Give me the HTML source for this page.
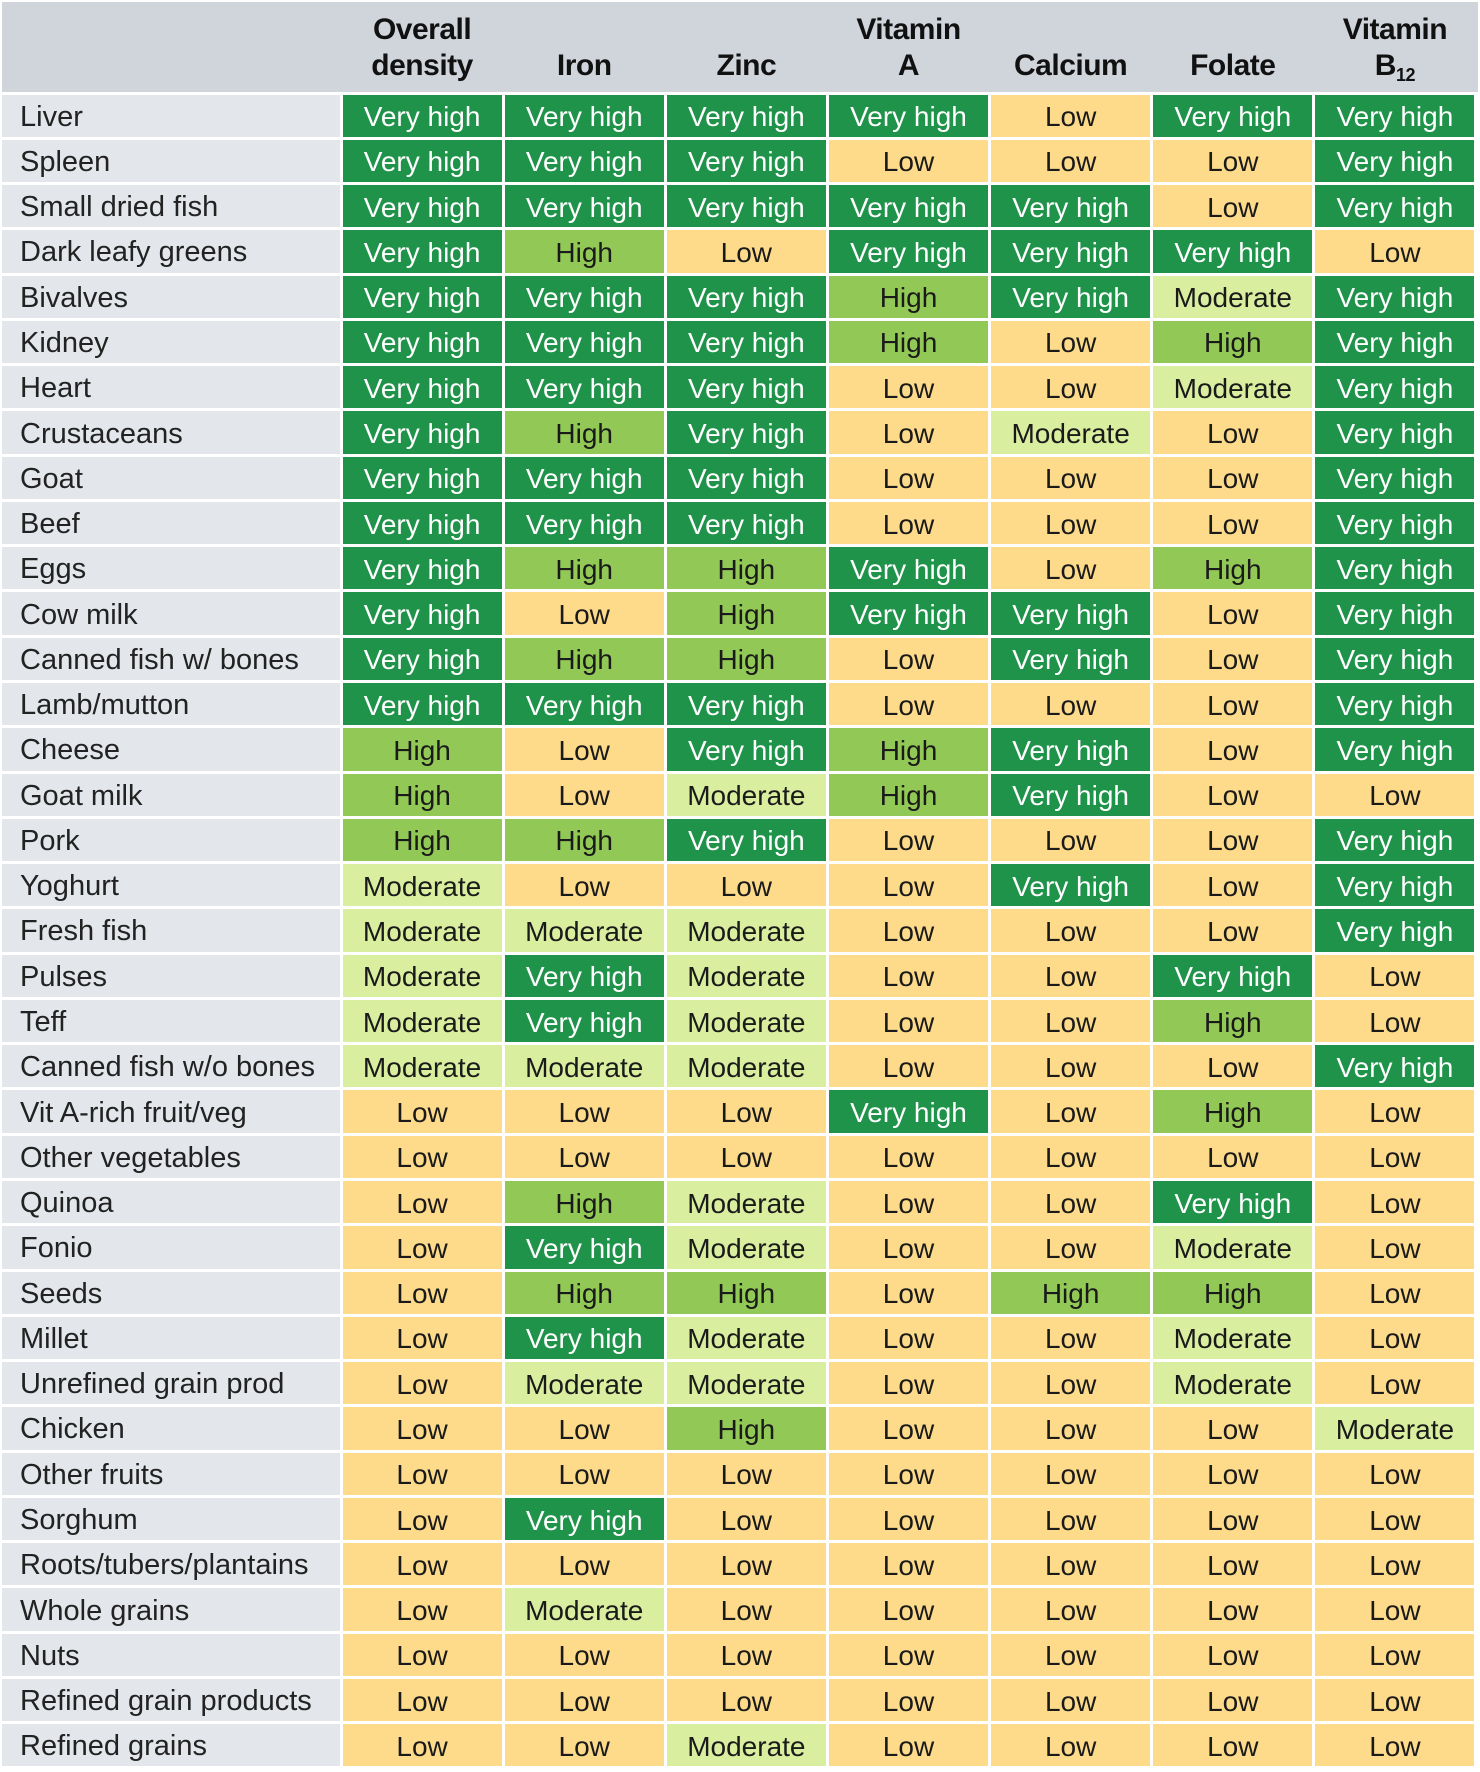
<!DOCTYPE html>
<html><head><meta charset="utf-8">
<style>
html,body{margin:0;padding:0;background:#fff;}
#chart{position:relative;width:1480px;height:1772px;overflow:hidden;background:#fff;font-family:"Liberation Sans",sans-serif;}
.c{position:absolute;display:flex;align-items:center;justify-content:center;font-size:28px;box-sizing:border-box;white-space:nowrap;}
.lab{justify-content:flex-start;padding-left:18px;background:#e3e6ea;color:#222;font-size:29px;padding-top:3px;}
.hd{position:absolute;display:flex;align-items:flex-end;justify-content:center;text-align:center;font-weight:bold;font-size:30px;line-height:36px;color:#111;padding-bottom:8px;box-sizing:border-box;letter-spacing:-0.5px;}
.hd sub{font-size:18px;vertical-align:-6px;line-height:0;}
</style></head>
<body>
<div id="chart">
<div style="position:absolute;left:2px;top:2px;width:1476px;height:90px;background:#d0d5dc;"></div>
</div>
<script>
const columns = ["Overall<br>density","Iron","Zinc","Vitamin<br>A","Calcium","Folate","Vitamin<br>B<sub>12</sub>"];
const foods = ["Liver","Spleen","Small dried fish","Dark leafy greens","Bivalves","Kidney","Heart","Crustaceans","Goat","Beef","Eggs","Cow milk","Canned fish w/ bones","Lamb/mutton","Cheese","Goat milk","Pork","Yoghurt","Fresh fish","Pulses","Teff","Canned fish w/o bones","Vit A-rich fruit/veg","Other vegetables","Quinoa","Fonio","Seeds","Millet","Unrefined grain prod","Chicken","Other fruits","Sorghum","Roots/tubers/plantains","Whole grains","Nuts","Refined grain products","Refined grains"];
// V=Very high, H=High, M=Moderate, L=Low
const ratings = [
"VVVVLVV","VVVLLLV","VVVVVLV","VHLVVVL","VVVHVMV","VVVHLHV","VVVLLMV","VHVLMLV","VVVLLLV","VVVLLLV",
"VHHVLHV","VLHVVLV","VHHLVLV","VVVLLLV","HLVHVLV","HLMHVLL","HHVLLLV","MLLLVLV","MMMLLLV","MVMLLVL",
"MVMLLHL","MMMLLLV","LLLVLHL","LLLLLLL","LHMLLVL","LVMLLML","LHHLHHL","LVMLLML","LMMLLML","LLHLLLM",
"LLLLLLL","LVLLLLL","LLLLLLL","LMLLLLL","LLLLLLL","LLLLLLL","LLMLLLL"];
const levelText = {V:"Very high",H:"High",M:"Moderate",L:"Low"};
const levelFill = {V:"#1f934a",H:"#92c956",M:"#daeea0",L:"#fddb8a"};
const levelInk = {V:"#fff",H:"#1a1a1a",M:"#1a1a1a",L:"#1a1a1a"};

const chart = document.getElementById('chart');
const top0 = 93, rowH = (1768-93)/foods.length, gap = 3;
const colX0 = 341, colW = (1476-341)/columns.length;
function yOf(i){return top0 + i*rowH;}
function xOf(j){return colX0 + j*colW;}

columns.forEach((c,j)=>{
  const h = document.createElement('div');
  h.className='hd';
  
  
  h.style.left = xOf(j)+'px'; h.style.top='2px';
  h.style.width = colW+'px'; h.style.height='90px';
  h.innerHTML = '<span>' + c + '</span>';
  chart.appendChild(h);
});

foods.forEach((f,i)=>{
  const y = yOf(i)+gap/2;
  const l = document.createElement('div');
  l.className='c lab';
  
  
  l.style.left='2px'; l.style.top=y+'px';
  l.style.width=(colX0-2-gap/2)+'px'; l.style.height=(rowH-gap)+'px';
  l.textContent = f;
  chart.appendChild(l);
  for(let j=0;j<columns.length;j++){
    const k = ratings[i][j];
    const d = document.createElement('div');
    d.className='c';
    
    
    d.style.left = (xOf(j)+gap/2)+'px'; d.style.top = y+'px';
    d.style.width = (colW-gap)+'px'; d.style.height = (rowH-gap)+'px';
    d.style.background = levelFill[k]; d.style.color = levelInk[k];
    d.style.paddingTop = '3px';
    d.textContent = levelText[k];
    chart.appendChild(d);
  }
});
</script>
</body></html>
